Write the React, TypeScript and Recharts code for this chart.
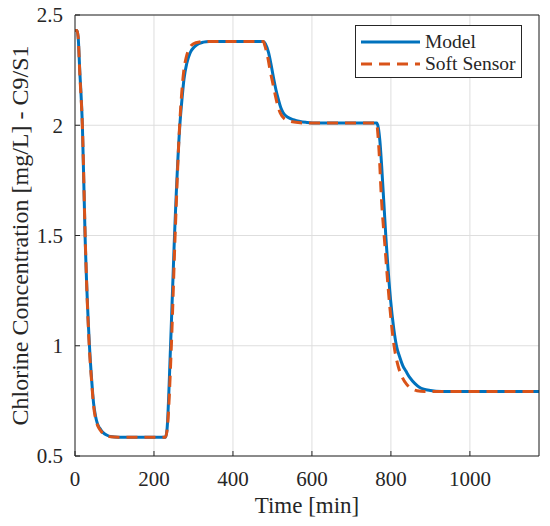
import React from 'react'
import {
  LineChart,
  Line,
  XAxis,
  YAxis,
  CartesianGrid,
  Legend,
  Label,
} from 'recharts'

// time [min] / chlorine [mg/L]
const modelTime = [0, 5, 8, 12, 18.7, 25.5, 36.6, 42, 47, 52, 57, 65, 72, 80, 90, 110, 229, 233, 242, 252, 265.5, 271, 276, 283, 292, 302, 313, 325, 340, 477, 482, 490, 496, 502, 509, 515, 521, 527, 540, 553, 570, 587, 610, 764, 768, 772, 776.5, 787, 799, 807, 814, 822, 830, 838, 848, 861, 872, 883, 900, 928, 1175]
const modelValue = [2.43, 2.43, 2.4, 2.25, 2.0, 1.5, 1.0, 0.85, 0.74, 0.68, 0.645, 0.62, 0.605, 0.595, 0.588, 0.585, 0.585, 0.62, 1.0, 1.5, 2.0, 2.12, 2.21, 2.28, 2.33, 2.355, 2.37, 2.377, 2.38, 2.38, 2.37, 2.33, 2.28, 2.222, 2.16, 2.117, 2.08, 2.057, 2.035, 2.025, 2.017, 2.013, 2.01, 2.01, 1.99, 1.93, 1.817, 1.5, 1.21, 1.08, 1.0, 0.95, 0.91, 0.885, 0.855, 0.828, 0.812, 0.803, 0.797, 0.793, 0.793]

const sensorTime = [0, 5, 8, 12, 19, 26, 36, 42, 47, 52, 57, 65, 72, 80, 90, 110, 229, 234, 244, 253.5, 265, 270, 275, 282, 290, 300, 315, 330, 477, 481, 488, 495, 501, 508, 514, 520, 530, 545, 565, 590, 764, 767, 771, 775, 785, 796, 808, 818, 828, 840, 852, 866, 885, 1175]
const sensorValue = [2.43, 2.43, 2.4, 2.24, 1.98, 1.48, 1.0, 0.84, 0.73, 0.67, 0.64, 0.615, 0.6, 0.592, 0.587, 0.585, 0.585, 0.63, 1.0, 1.5, 2.0, 2.14, 2.24, 2.31, 2.35, 2.37, 2.378, 2.38, 2.38, 2.36, 2.31, 2.24, 2.19, 2.13, 2.085, 2.055, 2.03, 2.018, 2.012, 2.01, 2.01, 1.96, 1.85, 1.7, 1.45, 1.2, 1.0, 0.91, 0.86, 0.825, 0.806, 0.796, 0.793, 0.793]

const xTicks = [0, 200, 400, 600, 800, 1000]
const yTicks = [0.5, 1, 1.5, 2, 2.5]
const xTitle = 'Time [min]'
const yTitle = 'Chlorine Concentration [mg/L] - C9/S1'

const modelData = modelTime.map((t, i) => ({ t, v: modelValue[i] }))
const sensorData = sensorTime.map((t, i) => ({ t, v: sensorValue[i] }))

const FONT = 'Liberation Serif, serif'
const INK = '#262626'
const tickStyle = { fill: INK, fontSize: 21, style: { fontFamily: FONT } }

const YTitle = ({ viewBox }: any) => {
  const cx = viewBox.x + 28
  const cy = viewBox.y + viewBox.height / 2
  return (
    <text
      x={cx}
      y={cy}
      transform={`rotate(-90 ${cx} ${cy})`}
      textAnchor="middle"
      fontSize={24}
      fill={INK}
      style={{ fontFamily: FONT }}
    >
      {yTitle}
    </text>
  )
}

const LegendBox = ({ payload }: any) => (
  <div
    style={{
      border: `1px solid ${INK}`,
      background: '#fff',
      padding: '5px 6px 2px 5px',
      fontFamily: FONT,
      fontSize: 19.5,
      color: INK,
    }}
  >
    {(payload || []).map((entry: any) => (
      <div key={entry.value} style={{ display: 'flex', alignItems: 'center', height: 22, lineHeight: '22px' }}>
        <svg width={59} height={22} style={{ marginRight: 5 }}>
          <line
            x1={0}
            y1={11}
            x2={59}
            y2={11}
            stroke={entry.color}
            strokeWidth={3}
            strokeDasharray={entry.payload?.strokeDasharray}
          />
        </svg>
        <span>{entry.value}</span>
      </div>
    ))}
  </div>
)

export default function App() {
  return (
    <div style={{ position: 'absolute', left: 0, top: 0, background: '#fff', fontFamily: FONT }}>
      <LineChart width={550} height={526} margin={{ top: 14, right: 10, bottom: 0, left: 0 }} style={{ fontFamily: FONT }}>
        <CartesianGrid stroke="#dedede" />
        <XAxis
          type="number"
          dataKey="t"
          domain={[0, 1175]}
          ticks={xTicks}
          allowDataOverflow
          height={70}
          tickSize={-5}
          tickMargin={20}
          stroke={INK}
          tick={tickStyle}
        >
          <Label
            value={xTitle}
            position="insideBottom"
            offset={13}
            fill={INK}
            fontSize={23}
            style={{ fontFamily: FONT }}
          />
        </XAxis>
        <XAxis
          xAxisId="top"
          orientation="top"
          type="number"
          domain={[0, 1175]}
          ticks={xTicks}
          allowDataOverflow
          height={1}
          tickSize={-5}
          tick={false}
          stroke={INK}
        />
        <YAxis
          type="number"
          domain={[0.5, 2.5]}
          ticks={yTicks}
          allowDataOverflow
          width={75}
          tickSize={-5}
          tickMargin={17}
          stroke={INK}
          tick={tickStyle}
        >
          <Label content={YTitle} />
        </YAxis>
        <YAxis
          yAxisId="right"
          orientation="right"
          type="number"
          domain={[0.5, 2.5]}
          ticks={yTicks}
          allowDataOverflow
          width={1}
          tickSize={-5}
          tick={false}
          stroke={INK}
        />
        <Legend
          layout="vertical"
          align="center"
          verticalAlign="middle"
          content={LegendBox}
          wrapperStyle={{ left: 355, top: 25, width: 'auto' }}
        />
        <Line
          data={modelData}
          dataKey="v"
          name="Model"
          type="monotone"
          stroke="#0072BD"
          strokeWidth={3}
          dot={false}
          activeDot={false}
          isAnimationActive={false}
        />
        <Line
          data={sensorData}
          dataKey="v"
          name="Soft Sensor"
          type="monotone"
          stroke="#D95319"
          strokeWidth={3}
          strokeDasharray="11 7"
          dot={false}
          activeDot={false}
          isAnimationActive={false}
        />
      </LineChart>
    </div>
  )
}
